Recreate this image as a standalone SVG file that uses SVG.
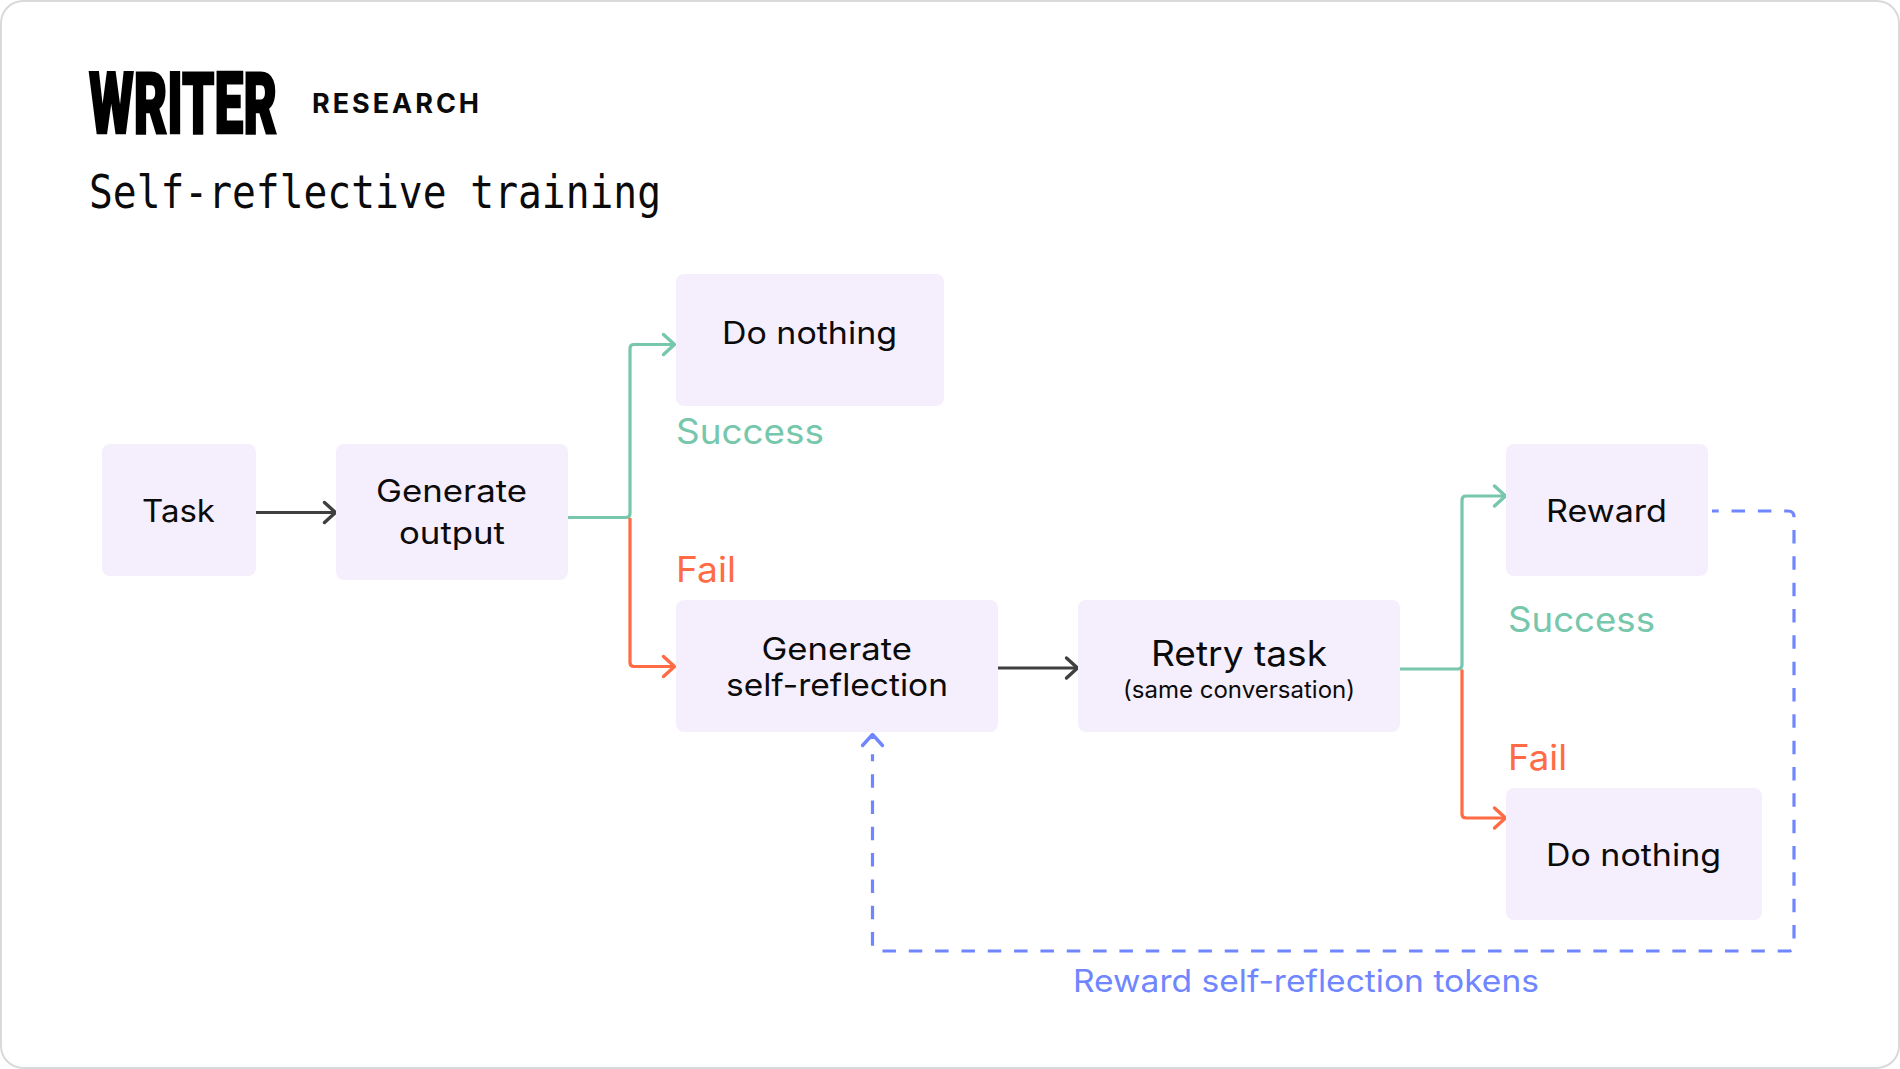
<svg xmlns="http://www.w3.org/2000/svg" width="1900" height="1069" viewBox="0 0 1900 1069">
<style>
text{font-family:"Inter","Noto Sans",sans-serif;font-size:31px;fill:#0b0b0b}
.box{fill:#f5effd}
.g{fill:#76c7ab;font-size:35px}.o{fill:#ff6b45;font-size:35px}.b{fill:#6f86ff}
.l{fill:none;stroke-width:3.2;stroke-linecap:butt;stroke-linejoin:round}
.lg{stroke:#76c7ab}.lo{stroke:#ff6b45}.lb{stroke:#6f86ff}.da{stroke-dasharray:13.5 12.83;stroke-dashoffset:6.8}.ld{stroke:#3f3f3f}
.h{fill:none;stroke-width:3.4;stroke-linecap:round;stroke-linejoin:round}
</style>
<defs>
<marker id="ad" markerUnits="userSpaceOnUse" markerWidth="30" markerHeight="30" refX="15" refY="15" orient="auto"><path class="h" d="M4 5L15 15L4 25" stroke="#3f3f3f"/></marker>
<marker id="ag" markerUnits="userSpaceOnUse" markerWidth="30" markerHeight="30" refX="15" refY="15" orient="auto"><path class="h" d="M4 5L15 15L4 25" stroke="#76c7ab"/></marker>
<marker id="ao" markerUnits="userSpaceOnUse" markerWidth="30" markerHeight="30" refX="15" refY="15" orient="auto"><path class="h" d="M4 5L15 15L4 25" stroke="#ff6b45"/></marker>
<marker id="ab" markerUnits="userSpaceOnUse" markerWidth="30" markerHeight="30" refX="15" refY="15" orient="auto"><path class="h" d="M4 5L15 15L4 25" stroke="#6f86ff"/></marker>
</defs>
<rect width="1900" height="1069" fill="#fff"/>
<rect x="1" y="1" width="1898" height="1067" rx="22" fill="#fff" stroke="#d9d9d9" stroke-width="2"/>
<g id="header">
<text transform="translate(89 132.5) scale(.7 1)" textLength="268.5" lengthAdjust="spacingAndGlyphs" style="font-family:'Roboto','Liberation Sans',sans-serif;font-size:85px;font-weight:900;fill:#000;stroke:#000;stroke-width:2.5">WRITER</text>
<text x="312" y="112.5" textLength="167" lengthAdjust="spacing" style="font-size:27px;font-weight:700;fill:#0b0b0b">RESEARCH</text>
<text x="89" y="207.5" textLength="572" lengthAdjust="spacingAndGlyphs" style="font-family:'DejaVu Sans Mono',monospace;font-size:46px">Self-reflective training</text>
</g>
<g id="connectors">
<path class="l ld" d="M255 512.5H335.5" marker-end="url(#ad)"/>
<path class="l lg" d="M568 517.5H626Q630 517.5 630 513.5V348.5Q630 344.5 634 344.5H674.5" marker-end="url(#ag)"/>
<path class="l lo" d="M630 518V662.5Q630 666.5 634 666.5H674.5" marker-end="url(#ao)"/>
<path class="l ld" d="M998 668H1077.5" marker-end="url(#ad)"/>
<path class="l lg" d="M1400 669H1458Q1462 669 1462 665V500Q1462 496 1466 496H1505.5" marker-end="url(#ag)"/>
<path class="l lo" d="M1462 669.5V814Q1462 818 1466 818H1505.5" marker-end="url(#ao)"/>
<path class="l lb da" d="M1712 511H1788Q1794 511 1794 517V945Q1794 951 1788 951H878.5Q872.5 951 872.5 945V754.3"/>
<path class="l lb" d="M872.5 739V734.5" marker-end="url(#ab)"/>
</g>
<g id="n-task"><rect class="box" x="102" y="444" width="154" height="132" rx="8"/><text x="142" y="522.2" textLength="73" lengthAdjust="spacingAndGlyphs">Task</text></g>
<g id="n-generate-output"><rect class="box" x="336" y="444" width="232" height="136" rx="8"/><text x="376" y="502" textLength="151" lengthAdjust="spacingAndGlyphs">Generate</text><text x="399" y="544" textLength="106" lengthAdjust="spacingAndGlyphs">output</text></g>
<g id="n-do-nothing-1"><rect class="box" x="676" y="274" width="268" height="132" rx="8"/><text x="722" y="344" textLength="175" lengthAdjust="spacingAndGlyphs">Do nothing</text></g>
<g id="n-self-reflection"><rect class="box" x="676" y="600" width="322" height="132" rx="8"/><text x="761.5" y="660" textLength="150.5" lengthAdjust="spacingAndGlyphs">Generate</text><text x="726" y="696" textLength="222" lengthAdjust="spacingAndGlyphs">self-reflection</text></g>
<g id="n-retry"><rect class="box" x="1078" y="600" width="322" height="132" rx="8"/><text x="1151" y="665.5" textLength="176" lengthAdjust="spacingAndGlyphs" style="font-size:35px">Retry task</text><text x="1123" y="698" textLength="232" lengthAdjust="spacingAndGlyphs" style="font-size:24px">(same conversation)</text></g>
<g id="n-reward"><rect class="box" x="1506" y="444" width="202" height="132" rx="8"/><text x="1546" y="522" textLength="121" lengthAdjust="spacingAndGlyphs">Reward</text></g>
<g id="n-do-nothing-2"><rect class="box" x="1506" y="788" width="256" height="132" rx="8"/><text x="1546" y="866" textLength="175" lengthAdjust="spacingAndGlyphs">Do nothing</text></g>
<g id="labels">
<text class="g" x="676" y="444" textLength="148" lengthAdjust="spacingAndGlyphs">Success</text>
<text class="o" x="676" y="582" textLength="60" lengthAdjust="spacingAndGlyphs">Fail</text>
<text class="g" x="1508" y="632" textLength="147" lengthAdjust="spacingAndGlyphs">Success</text>
<text class="o" x="1508" y="769.5" textLength="59" lengthAdjust="spacingAndGlyphs">Fail</text>
<text class="b" x="1073" y="991.5" textLength="466" lengthAdjust="spacingAndGlyphs">Reward self-reflection tokens</text>
</g>
</svg>
